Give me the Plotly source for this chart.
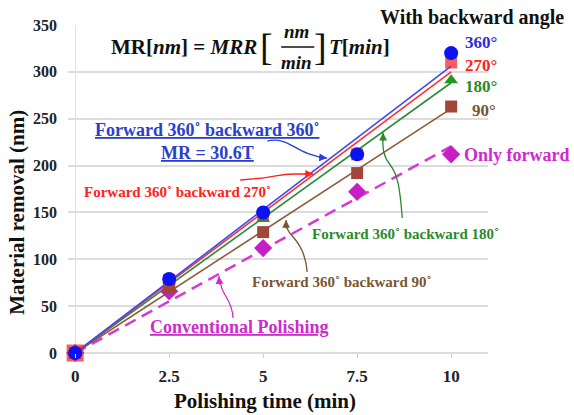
import numpy as np
import plotly.graph_objects as go

# Polishing time (min)
times = np.array([0, 2.5, 5, 7.5, 10])

# Material removal (nm) for each backward angle (forward pass fixed at 360°)
mr_360 = np.array([0, 79, 150, 212, 320])
mr_270 = np.array([0, 78, 148, 212, 310])
mr_180 = np.array([0, 77, 143, 212, 291])
mr_90 = np.array([0, 70, 129, 192, 263])
mr_forward = np.array([0, 66, 112, 172, 212])

x_ticks = [0, 2.5, 5, 7.5, 10]
x_tick_text = ["0", "2.5", "5", "7.5", "10"]

SERIF = "Liberation Serif"

series = [
    # name, data, line colour, marker colour, symbol, size, dash
    ("forward", mr_forward, "#d43ad4", "#c81ec8", "diamond", 14, "12px,7px"),
    ("90", mr_90, "#8b5e3c", "#a0473a", "square", 12, "solid"),
    ("180", mr_180, "#2e8b3a", "#1e9a1e", "triangle-up", 12, "solid"),
    ("270", mr_270, "#ff3030", "#ee1c1c", "square", [17, 12, 12, 12, 12], "solid"),
    ("360", mr_360, "#3f48f5", "#0a14f0", "circle", 14, "solid"),
]


def fit_slope(t, y):
    """Least-squares slope of a line through the origin."""
    return float(np.sum(t * y) / np.sum(t * t))


fig = go.Figure()

# Fitted removal-rate lines
for name, y, lc, mc, sym, size, dash in series:
    k = fit_slope(times, y)
    fig.add_trace(go.Scatter(
        x=times, y=k * times, mode="lines",
        line=dict(color=lc, width=2.5 if name == "forward" else 1.6, dash=dash),
        hoverinfo="skip", showlegend=False, cliponaxis=False,
    ))

# Measured points
for name, y, lc, mc, sym, size, dash in series:
    fig.add_trace(go.Scatter(
        x=times, y=y, mode="markers",
        marker=dict(symbol=sym, size=size, color=mc, line=dict(width=0)),
        showlegend=False, cliponaxis=False, name=name,
    ))

annotations = []


def txt(x, y, text, size, color="#111", xanchor="center", bold=True,
        xref="x", yref="y"):
    annotations.append(dict(
        x=x, y=y, xref=xref, yref=yref, text=text, showarrow=False,
        xanchor=xanchor, yanchor="middle",
        font=dict(family=SERIF, size=size, color=color,
                  weight="bold" if bold else "normal"),
    ))


# Removal model: MR[nm] = MRR[nm/min] T[min]
txt(4.89, 326.5, "MR[<i>nm</i>]&nbsp;=&nbsp;<i>MRR</i>", 21, xanchor="right")
txt(5.08, 326.5, "[", 38, bold=False)
txt(5.90, 343.6, "<i>nm</i>", 19)
txt(5.90, 309.5, "<i>min</i>", 19)
txt(6.52, 326.5, "]", 38, bold=False)
txt(6.70, 326.5, "<i>T</i>[<i>min</i>]", 21, xanchor="left")

# Angle labels at the right end of the series
txt(0.962, 1.024, "With backward angle", 20, xref="paper", yref="paper")
txt(10.32, 330.8, "360°", 17, "#2b2be0", xanchor="left")
txt(10.32, 307.3, "270°", 17, "#ff2020", xanchor="left")
txt(10.32, 283.9, "180°", 17, "#2a8a2a", xanchor="left")
txt(10.51, 259.3, "90°", 17, "#7a5530", xanchor="left")
txt(10.29, 211.3, "Only forward", 18, "#cc2ccc", xanchor="left")

# Callout labels
txt(3.51, 238.0, "<u>Forward 360˚ backward 360˚</u>", 18, "#2a3fd0")
txt(3.51, 213.4, "<u>MR = 30.6T</u>", 18, "#2a3fd0")
txt(2.73, 171.8, "Forward 360˚ backward 270˚", 15, "#ff2020")
txt(8.79, 127.0, "Forward 360˚ backward 180˚", 15, "#2a8a2a")
txt(7.09, 75.8, "Forward 360˚ backward 90˚", 15, "#7a5530")
txt(4.36, 27.7, "<u>Conventional Polishing</u>", 18, "#cc2ccc")

# Callout leader curves with arrowheads
leaders = [
    ("M 5.11,226.2 C 5.72,231.6 5.85,211.3 6.70,208", "#2a3fd0", (6.70, 208), (-10, -1)),
    ("M 4.39,184.6 L 4.97,186.7 C 5.32,187.8 5.45,191 5.80,191 L 6.33,191",
     "#ff2020", (6.33, 191), (-10, 0)),
    ("M 8.70,144.1 C 8.64,173.9 8.59,190 8.38,200.6 C 8.22,208.1 8.16,216.6 8.19,235",
     "#2a8a2a", (8.19, 235), (0, 10)),
    ("M 6.17,86.4 C 6.14,104.6 5.98,115.3 5.82,122.7 C 5.66,129.1 5.61,133.4 5.61,142",
     "#7a5530", (5.61, 142), (0, 10)),
    ("M 4.20,37.3 C 4.18,56.6 3.91,61.9 3.88,72.6 L 3.82,82",
     "#cc2ccc", (3.82, 82), (1, 10)),
]
shapes = []
for path, color, tip, off in leaders:
    shapes.append(dict(type="path", path=path, xref="x", yref="y",
                       line=dict(color=color, width=1.3)))
    annotations.append(dict(
        x=tip[0], y=tip[1], xref="x", yref="y", text="", showarrow=True,
        ax=off[0], ay=off[1], arrowhead=2, arrowsize=1.2, arrowwidth=1.3,
        arrowcolor=color,
    ))

# Fraction bar of the model
shapes.append(dict(type="line", xref="x", yref="y", x0=5.48, x1=6.36,
                   y0=326.5, y1=326.5, line=dict(color="#111", width=1.5)))

# Axis titles
txt((265 - 68) / 420, -0.145, "Polishing time (min)", 21, xref="paper", yref="paper")
annotations.append(dict(
    x=-0.122, y=0.43, xref="paper", yref="paper", textangle=-90,
    text="Material removal (nm)", showarrow=False, xanchor="center", yanchor="middle",
    font=dict(family=SERIF, size=21, color="#111", weight="bold"),
))

fig.update_layout(
    width=574, height=415,
    margin=dict(l=68, r=86, t=25, b=62),
    paper_bgcolor="white", plot_bgcolor="white",
    showlegend=False,
    annotations=annotations, shapes=shapes,
    xaxis=dict(
        range=[-0.19, 10.98], tickvals=x_ticks, ticktext=x_tick_text,
        showgrid=False, zeroline=True, zerolinecolor="#e0e0e0", zerolinewidth=1,
        ticks="outside", ticklen=4, tickcolor="#d0d0d0",
        tickfont=dict(family=SERIF, size=17, color="#222", weight="bold"),
        ticklabelstandoff=4, showline=False,
    ),
    yaxis=dict(
        range=[0, 350], dtick=50, showgrid=True, gridcolor="#dcdcdc", gridwidth=1.5,
        zeroline=True, zerolinecolor="#dcdcdc", zerolinewidth=1.5,
        tickfont=dict(family=SERIF, size=16, color="#222", weight="bold"),
        ticklabelstandoff=10, showline=False,
    ),
)

fig.write_html("out.html")
